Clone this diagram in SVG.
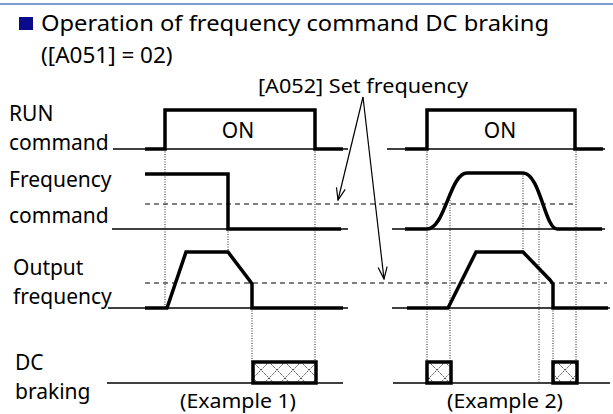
<svg xmlns="http://www.w3.org/2000/svg" width="613" height="414" viewBox="0 0 613 414">
<style>
text{font-family:"Noto Sans","Liberation Sans",sans-serif;fill:#000}
.t{font-size:22.5px}
.l{font-size:21px}
.s{font-size:20.5px}
.thin{fill:none;stroke:#000;stroke-width:1.3}
.thick{fill:none;stroke:#000;stroke-width:3.5;stroke-linejoin:miter}
.dot{fill:none;stroke:#222;stroke-width:1;stroke-dasharray:1 1.5}
.dash{fill:none;stroke:#000;stroke-width:1.2;stroke-dasharray:5 4}
.arr{fill:none;stroke:#000;stroke-width:1.2;marker-end:url(#ah)}
.box{fill:url(#hatch);stroke:#000;stroke-width:3.5}
</style>
<defs>
<marker id="ah" viewBox="0 0 14 12" refX="13" refY="6" markerWidth="14" markerHeight="12" markerUnits="userSpaceOnUse" orient="auto">
<path d="M1,1.5 L13,6 L1,10.5" fill="none" stroke="#000" stroke-width="1.2"/>
</marker>
<pattern id="hatch" patternUnits="userSpaceOnUse" width="16" height="16" x="253" y="362">
<rect width="16" height="16" fill="#fff"/>
<path d="M0,0 L16,16 M16,0 L0,16" stroke="#444" stroke-width="1" stroke-dasharray="1.5 1"/>
</pattern>
</defs>
<line x1="0" y1="4" x2="613" y2="4" stroke="#7f9ccf" stroke-width="2"/>
<g id="title">
<rect x="19" y="17" width="14" height="13" fill="#0a0a8a"/>
<text class="t" x="41" y="31" textLength="508" lengthAdjust="spacingAndGlyphs">Operation of frequency command DC braking</text>
<text class="t" x="41" y="63">([A051] = 02)</text>
</g>
<g id="labels">
<text class="l" x="9" y="121">RUN</text>
<text class="l" x="9" y="150">command</text>
<text class="l" x="9" y="187">Frequency</text>
<text class="l" x="9" y="223">command</text>
<text class="l" x="13" y="275">Output</text>
<text class="l" x="13" y="304">frequency</text>
<text class="l" x="15" y="370">DC</text>
<text class="l" x="15" y="399">braking</text>
</g>
<g id="baselines">
<line class="thin" x1="113" y1="149" x2="348" y2="149"/>
<line class="thin" x1="112" y1="229" x2="348" y2="229"/>
<line class="thin" x1="108" y1="308" x2="348" y2="308"/>
<line class="thin" x1="107" y1="383" x2="343" y2="383"/>
<line class="thin" x1="387" y1="149" x2="605" y2="149"/>
<line class="thin" x1="392" y1="229" x2="605" y2="229"/>
<line class="thin" x1="392" y1="308" x2="610" y2="308"/>
<line class="thin" x1="393" y1="383" x2="610" y2="383"/>
</g>
<g id="set-frequency-levels">
<line class="dash" x1="145" y1="204" x2="575" y2="204"/>
<line class="dash" x1="145" y1="283" x2="607" y2="283"/>
</g>
<g id="guides">
<line class="dot" x1="165" y1="149" x2="165" y2="308"/>
<line class="dot" x1="315" y1="149" x2="315" y2="362"/>
<line class="dot" x1="228" y1="229" x2="228" y2="252"/>
<line class="dot" x1="252" y1="308" x2="252" y2="362"/>
<line class="dot" x1="427" y1="149" x2="427" y2="362"/>
<line class="dot" x1="450" y1="200" x2="450" y2="362"/>
<line class="dot" x1="523" y1="173" x2="523" y2="252"/>
<line class="dot" x1="539" y1="204" x2="539" y2="383"/>
<line class="dot" x1="553" y1="308" x2="553" y2="362"/>
<line class="dot" x1="576" y1="149" x2="576" y2="362"/>
</g>
<g id="example1">
<path class="thick" d="M145,149 H165 V110 H315 V149 H343"/>
<text class="l" x="238" y="138" text-anchor="middle">ON</text>
<path class="thick" d="M145,174 H228 V229 H341"/>
<path class="thick" d="M145,308 H167 L186,252 H228 L250,281 L252,284 V308 H343"/>
<rect class="box" x="253" y="362" width="63" height="21"/>
<text class="s" x="238" y="408" text-anchor="middle" textLength="116" lengthAdjust="spacingAndGlyphs">(Example 1)</text>
</g>
<g id="example2">
<path class="thick" d="M405,149 H427 V110 H575 V149 H603"/>
<text class="l" x="500" y="138" text-anchor="middle">ON</text>
<path class="thick" d="M405,229 H427 C445,229 450,173 467,173 H523 C540,173 545,229 557,229 H602"/>
<path class="thick" d="M407,308 H448 L476,252 H523 L550,280 L553,284 V308 H608"/>
<rect class="box" x="427" y="362" width="24" height="21"/>
<rect class="box" x="553" y="362" width="24" height="21"/>
<text class="s" x="505" y="408" text-anchor="middle" textLength="116" lengthAdjust="spacingAndGlyphs">(Example 2)</text>
</g>
<g id="annotation">
<text class="s" x="258" y="93" textLength="210" lengthAdjust="spacingAndGlyphs">[A052] Set frequency</text>
<line class="arr" x1="363" y1="97" x2="338" y2="200"/>
<line class="arr" x1="363" y1="97" x2="384" y2="279"/>
</g>
</svg>
